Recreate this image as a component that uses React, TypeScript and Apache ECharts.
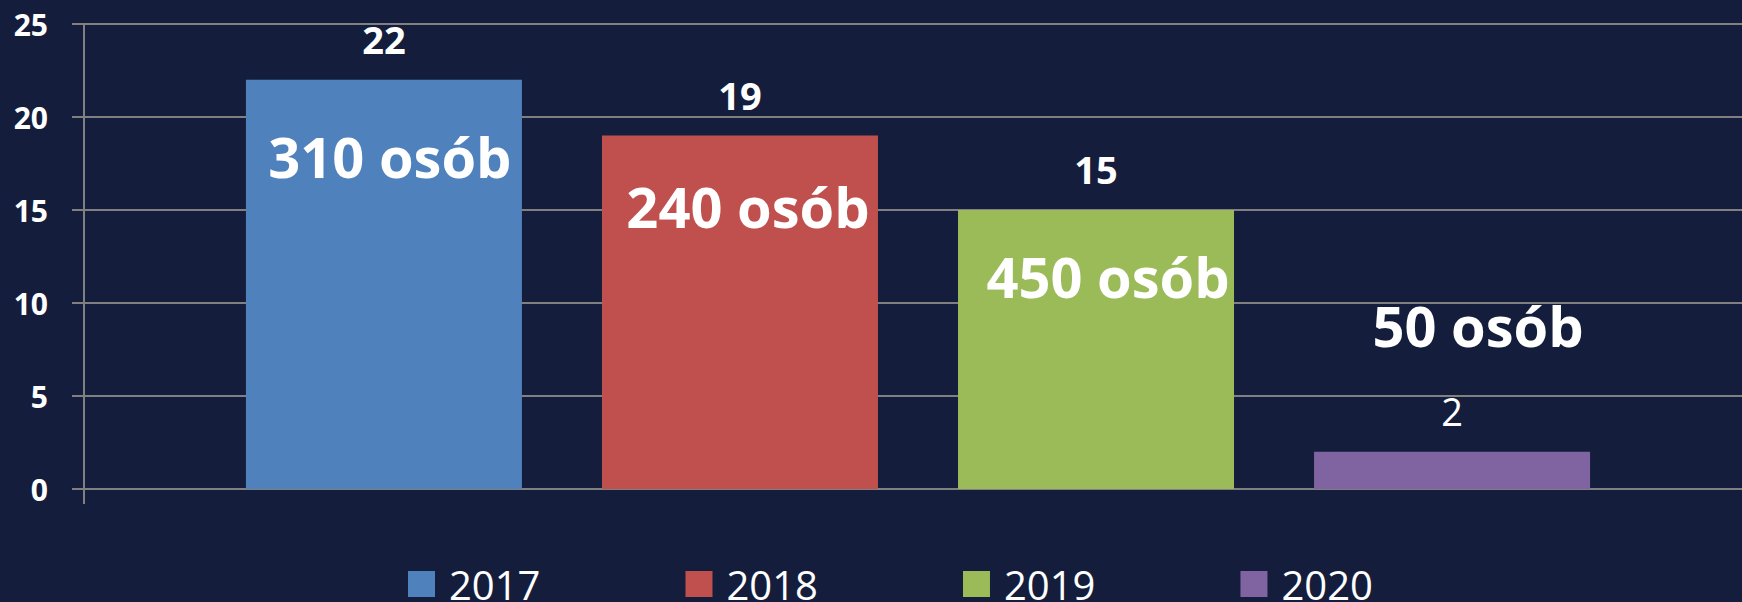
import React, { useEffect, useRef } from "react";
import * as echarts from "echarts";

const years = ["2017", "2018", "2019", "2020"];
const counts = [22, 19, 15, 2];
const people = ["310 osób", "240 osób", "450 osób", "50 osób"];
const peopleLabelY = [17.9, 15.2, 11.45, 8.8];
const peopleLabelDx = [6, 8, 12, 26];
const colors = ["#4F81BD", "#C0504D", "#9BBB59", "#8064A2"];
const valueBold = [true, true, true, false];
const yTicks = { min: 0, max: 25, interval: 5 };

export default function App() {
  const ref = useRef<HTMLDivElement>(null);
  useEffect(() => {
    if (!ref.current) return;
    document.body.style.margin = "0";
    document.body.style.background = "#141E3C";
    const chart = echarts.init(ref.current, null, { renderer: "svg" });
    const series = years.map((y, i) => ({
      name: y,
      type: "bar",
      data: [counts[i]],
      barWidth: 276,
      barGap: "29%",
      itemStyle: { color: colors[i] },
      label: {
        show: true,
        position: "top",
        distance: 22,
        color: "#ffffff",
        fontFamily: "Open Sans",
        fontSize: 38,
        fontWeight: valueBold[i] ? "bold" : "normal",
      },
      markPoint: {
        symbol: "rect",
        symbolSize: 1,
        itemStyle: { color: "rgba(0,0,0,0)" },
        label: {
          show: true,
          position: "inside",
          offset: [peopleLabelDx[i], 0],
          formatter: people[i],
          color: "#ffffff",
          fontFamily: "Open Sans",
          fontSize: 56,
          fontWeight: "bold",
        },
        data: [{ coord: [0, peopleLabelY[i]] }],
      },
    }));
    chart.setOption({
      animation: false,
      backgroundColor: "#141E3C",
      color: colors,
      grid: {
        left: 84,
        width: 1668,
        top: 24,
        bottom: 113,
        containLabel: false,
        outerBoundsMode: "none",
      },
      legend: {
        left: 403,
        top: 559,
        itemWidth: 27,
        itemHeight: 26,
        itemGap: 145,
        icon: "rect",
        textStyle: {
          color: "#ffffff",
          fontSize: 40,
          fontFamily: "Open Sans",
          padding: [0, 0, 0, 9],
        },
        data: years,
      },
      xAxis: {
        type: "category",
        data: [""],
        axisLine: { show: true, lineStyle: { color: "#808080", width: 2 } },
        axisTick: { show: true, length: 15, lineStyle: { color: "#808080", width: 2 } },
        axisLabel: { show: false },
      },
      yAxis: {
        type: "value",
        min: yTicks.min,
        max: yTicks.max,
        interval: yTicks.interval,
        axisLine: { show: true, lineStyle: { color: "#808080", width: 2 } },
        axisTick: { show: true, length: 12, lineStyle: { color: "#808080", width: 2 } },
        splitLine: { show: true, lineStyle: { color: "#808080", width: 2 } },
        axisLabel: {
          color: "#ffffff",
          fontFamily: "Open Sans",
          fontWeight: "bold",
          fontSize: 30,
          margin: 36,
        },
      },
      series,
    });
    return () => chart.dispose();
  }, []);
  return <div ref={ref} style={{ width: 1742, height: 602 }} />;
}
